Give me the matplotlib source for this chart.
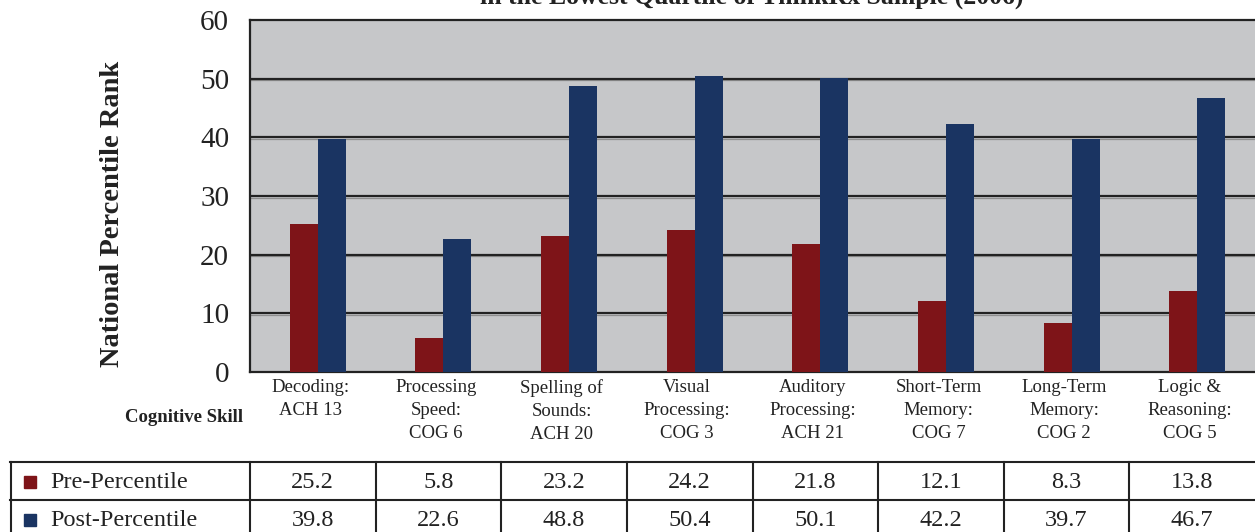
import matplotlib
matplotlib.use('Agg')
import matplotlib.pyplot as plt
from matplotlib.patches import Rectangle
import matplotlib.transforms as mtransforms

plt.rcParams['font.family'] = ['Liberation Serif', 'DejaVu Serif']

skills = ['Decoding:\nACH 13', 'Processing\nSpeed:\nCOG 6', 'Spelling of\nSounds:\nACH 20',
          'Visual\nProcessing:\nCOG 3', 'Auditory\nProcessing:\nACH 21', 'Short-Term\nMemory:\nCOG 7',
          'Long-Term\nMemory:\nCOG 2', 'Logic &\nReasoning:\nCOG 5']
pre = [25.2, 5.8, 23.2, 24.2, 21.8, 12.1, 8.3, 13.8]
post = [39.8, 22.6, 48.8, 50.4, 50.1, 42.2, 39.7, 46.7]
series = ['Pre-Percentile', 'Post-Percentile']
yticks = [0, 10, 20, 30, 40, 50, 60]

red = '#7e1418'
blue = '#1a3462'
W, H = 1255, 532

fig = plt.figure(figsize=(W/100, H/100), dpi=100)

# chart area in pixels: x 250..1255, y 20..372
ax = fig.add_axes([250/W, (H-372)/H, 1005/W, 352/H])
ax.set_facecolor('#c6c7c9')
ax.set_xlim(-0.5, 7.5)
ax.set_ylim(0, 60)
x = list(range(len(skills)))
bw = 0.223
off = 0.04
ax.bar([i + off for i in x], pre, width=-bw, align='edge', color=red, zorder=3)
ax.bar([i + off for i in x], post, width=bw, align='edge', color=blue, zorder=3)
for t in yticks[1:-1]:
    ax.axhline(t - 0.28, color='#8e8e8e', lw=0.9, zorder=1)
    ax.axhline(t, color='#222222', lw=1.6, zorder=2)
ax.set_yticks(yticks)
ax.set_yticklabels([str(t) for t in yticks], fontsize=21, color='#222222')
ax.set_xticks([])
ax.tick_params(axis='y', length=0, pad=15)
for s in ['top', 'left', 'bottom']:
    ax.spines[s].set_linewidth(1.6)
    ax.spines[s].set_color('#222222')
ax.spines['right'].set_visible(False)

trans = mtransforms.blended_transform_factory(ax.transData, ax.transAxes)
for i, lab in enumerate(skills):
    ax.text(i - 0.02, -7/352, lab, transform=trans, ha='center', va='top',
            fontsize=13.5, color='#222222', linespacing=1.45)

fig.text(243/W, 1 - 417/H, 'Cognitive Skill', ha='right', va='center',
         fontsize=13.5, fontweight='bold', color='#222222')
fig.text(113/W, 1 - 214/H, 'National Percentile Rank', rotation=90, ha='center',
         va='center', fontsize=20.5, fontweight='bold', color='#222222')
fig.text(752/W, 1 - 4/H, 'in the Lowest Quartile of ThinkRx Sample (2006)', ha='center',
         va='baseline', fontsize=18.5, fontweight='bold', color='#222222')

# data table: x 10..1255, y 462..538
unit = 1005 / 8
left = -0.5 - 240/unit
tb = fig.add_axes([10/W, (H-538)/H, 1245/W, 76/H])
tb.set_xlim(left, 7.5)
tb.set_ylim(0, 2)
tb.axis('off')
for yy in [0, 1, 2]:
    tb.plot([left, 7.5], [yy, yy], color='#222222', lw=1.5, clip_on=False)
for xx in [left + 0.004, -0.5] + [i + 0.5 for i in range(7)]:
    tb.plot([xx, xx], [0, 2], color='#222222', lw=1.5, clip_on=False)
for r, (name, vals, col) in enumerate(zip(series, [pre, post], [red, blue])):
    yc = 1.47 - r
    tb.add_patch(Rectangle((left + 14/unit, yc - 0.16), 12/unit, 0.32, color=col))
    tb.text(left + 40/unit, yc, name, ha='left', va='center', fontsize=17.5, color='#222222')
    for i, v in enumerate(vals):
        tb.text(i, yc, f'{v:.1f}', ha='center', va='center', fontsize=17.5, color='#222222')

fig.savefig('out.png', dpi=100)
